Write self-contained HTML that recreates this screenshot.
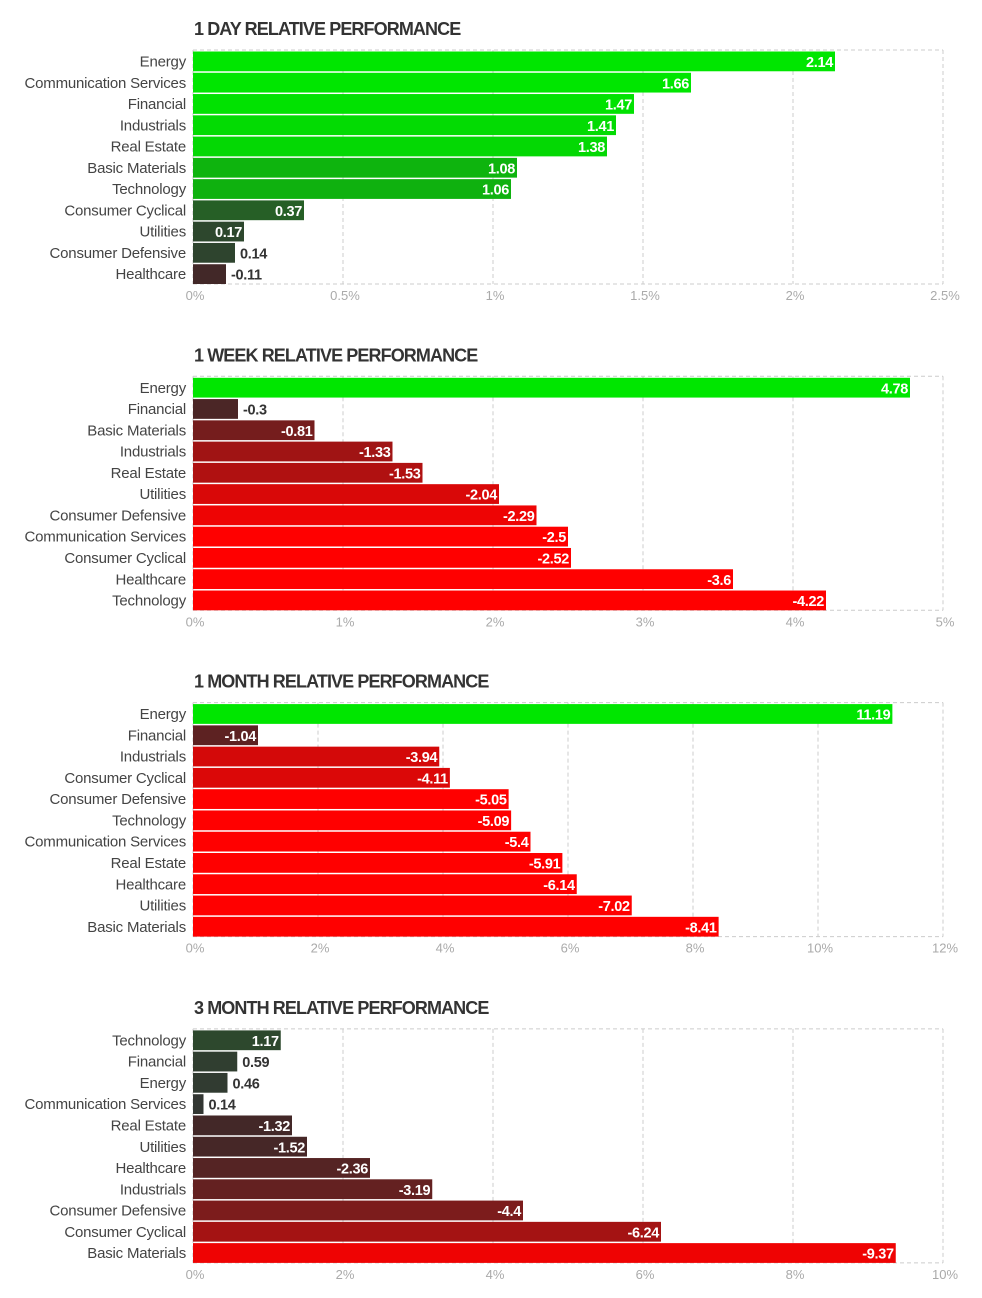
<!DOCTYPE html>
<html><head><meta charset="utf-8"><style>
html,body{margin:0;padding:0;background:#fff;width:982px;height:1298px;overflow:hidden;font-family:"Liberation Sans",sans-serif}
svg{position:absolute;left:0;top:0}
</style></head><body>
<svg id="s" width="982" height="1298"></svg>
<script>
const titles=["1 DAY RELATIVE PERFORMANCE","1 WEEK RELATIVE PERFORMANCE","1 MONTH RELATIVE PERFORMANCE","3 MONTH RELATIVE PERFORMANCE"];
const cats1=["Energy","Communication Services","Financial","Industrials","Real Estate","Basic Materials","Technology","Consumer Cyclical","Utilities","Consumer Defensive","Healthcare"];
const vals1=[2.14,1.66,1.47,1.41,1.38,1.08,1.06,0.37,0.17,0.14,-0.11];
const ticks1=["0%","0.5%","1%","1.5%","2%","2.5%"];
const cats2=["Energy","Financial","Basic Materials","Industrials","Real Estate","Utilities","Consumer Defensive","Communication Services","Consumer Cyclical","Healthcare","Technology"];
const vals2=[4.78,-0.3,-0.81,-1.33,-1.53,-2.04,-2.29,-2.5,-2.52,-3.6,-4.22];
const ticks2=["0%","1%","2%","3%","4%","5%"];
const cats3=["Energy","Financial","Industrials","Consumer Cyclical","Consumer Defensive","Technology","Communication Services","Real Estate","Healthcare","Utilities","Basic Materials"];
const vals3=[11.19,-1.04,-3.94,-4.11,-5.05,-5.09,-5.4,-5.91,-6.14,-7.02,-8.41];
const ticks3=["0%","2%","4%","6%","8%","10%","12%"];
const cats4=["Technology","Financial","Energy","Communication Services","Real Estate","Utilities","Healthcare","Industrials","Consumer Defensive","Consumer Cyclical","Basic Materials"];
const vals4=[1.17,0.59,0.46,0.14,-1.32,-1.52,-2.36,-3.19,-4.4,-6.24,-9.37];
const ticks4=["0%","2%","4%","6%","8%","10%"];
const axisMax=[2.5,5,12,10];
const colorScale=[1.5,2.5,5,10];

const NS="http://www.w3.org/2000/svg";
const svg=document.getElementById('s');
function mk(tag,attrs,parent){const e=document.createElementNS(NS,tag);for(const k in attrs)e.setAttribute(k,attrs[k]);(parent||svg).appendChild(e);return e;}
function col(v,s){let t=Math.min(Math.abs(v)/s,1);const b=51;
 if(v>=0)return `rgb(${Math.round(b*(1-t))},${Math.round(b+(230-b)*t)},${Math.round(b*(1-t))})`;
 if(s>=10)t=Math.pow(t,1.25);
 return `rgb(${Math.round(b+(255-b)*t)},${Math.round(43*(1-t))},${Math.round(43*(1-t))})`;}
const L=193,R=943,H=234;
const sets=[[cats1,vals1,ticks1],[cats2,vals2,ticks2],[cats3,vals3,ticks3],[cats4,vals4,ticks4]];
sets.forEach((st,ci)=>{
 const [cats,vals,ticks]=st;const top=50+ci*326.3;const bot=top+H;
 const g=mk('g',{});
 
 
 const x=v=>L+Math.abs(v)/axisMax[ci]*(R-L);
 const t=mk('text',{x:194,y:top-15,'font-size':18,'font-weight':'bold',fill:'#333','letter-spacing':'-0.9'},g);t.textContent=titles[ci];
 
 
 const tn=ticks.length-1;
 ticks.forEach((tk,i)=>{const xx=L+i*(R-L)/tn;
  const gl=mk('line',{x1:xx,x2:xx,y1:top,y2:bot,stroke:'#ccc','stroke-dasharray':'4,3'},g);
  
  
  const tl=mk('text',{x:xx+2,y:bot+16,'font-size':13,fill:'#aaa','text-anchor':'middle'},g);tl.textContent=tk;
  
  });
 [top,bot].forEach(yy=>{const hl=mk('line',{x1:L,x2:R,y1:yy,y2:yy,stroke:'#ccc','stroke-dasharray':'4,3'},g);
  
  });
 const pitch=H/cats.length;
 cats.forEach((c,i)=>{const y=top+1.5+i*pitch;const v=vals[i];const w=x(v)-L;
  const r=mk('rect',{x:L,y:y,width:w,height:pitch-1.5,fill:col(v,colorScale[ci])},g);
  
  
  const cl=mk('text',{x:186,y:y+15,'font-size':15,fill:'#444','text-anchor':'end','letter-spacing':'-0.2'},g);cl.textContent=c;
  
  
  const inside=w>=48;
  const vl=mk('text',{x:inside?L+w-2:L+w+5,y:y+15.5,'font-size':14.5,'font-weight':'bold',fill:inside?'#fff':'#333','text-anchor':inside?'end':'start','letter-spacing':'-0.3'},g);vl.textContent=String(v);
  
  
 });
});
</script>
</body></html>
